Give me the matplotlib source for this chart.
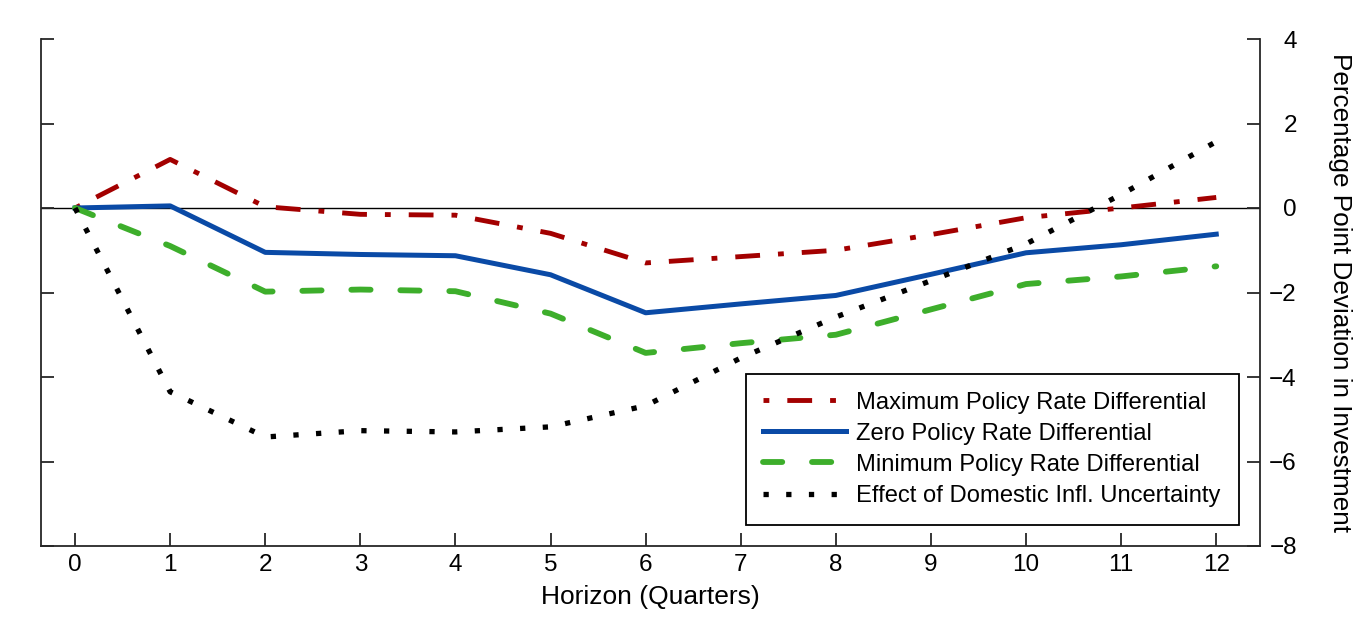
import matplotlib
matplotlib.use("Agg")
import matplotlib.pyplot as plt
import numpy as np

plt.rcParams['font.family'] = ['Liberation Sans', 'DejaVu Sans']

# ==========================================
# DATA
# ==========================================
horizon = list(range(13))
max_rate = [0, 1.15, 0.03, -0.15, -0.17, -0.60, -1.30, -1.15, -1.00, -0.63, -0.23, 0.00, 0.25]
zero_rate = [0, 0.05, -1.05, -1.10, -1.13, -1.58, -2.48, -2.27, -2.07, -1.57, -1.06, -0.87, -0.62]
min_rate = [0, -0.90, -1.98, -1.93, -1.97, -2.50, -3.43, -3.20, -3.00, -2.40, -1.80, -1.62, -1.38]
infl_unc = [0, -4.35, -5.42, -5.27, -5.30, -5.18, -4.68, -3.55, -2.58, -1.72, -0.85, 0.32, 1.57]

labels = ['Maximum Policy Rate Differential',
          'Zero Policy Rate Differential',
          'Minimum Policy Rate Differential',
          'Effect of Domestic Infl. Uncertainty']

# ==========================================
# PLOTTING
# ==========================================
fig = plt.figure(figsize=(13.67, 6.22), dpi=100)
ax = fig.add_axes([41 / 1367, 1 - 546 / 622, (1260 - 41) / 1367, (546 - 39) / 622])

ax.axhline(0, color='black', lw=1.0, zorder=1)

ax.plot(horizon, max_rate, color='#a30000', lw=3.5,
        linestyle=(0, (1.2, 3.7, 5.1, 3.7)), label=labels[0], zorder=3)
ax.plot(horizon, zero_rate, color='#0a4aa6', lw=3.6, label=labels[1], zorder=3)
ax.plot(horizon, min_rate, color='#3dae2b', lw=4.2, linestyle=(0, (3.3, 5.1)),
        dash_capstyle='round', label=labels[2], zorder=3)
ax.plot(horizon, infl_unc, color='black', lw=3.8, linestyle=(0, (1, 3.3)),
        label=labels[3], zorder=3)

ax.set_xlim(-0.358, 12.46)
ax.set_ylim(-8, 4)
ax.set_xticks(horizon)
ax.set_yticks(np.arange(-8, 5, 2))

for side in ['left', 'right', 'bottom']:
    ax.spines[side].set_linewidth(1.3)
    ax.spines[side].set_color('#262626')
ax.spines['top'].set_visible(False)

ax.tick_params(axis='x', direction='in', length=9.4, width=1.3, color='#262626',
               labelsize=17.5, pad=6, top=False)
ax.tick_params(axis='y', direction='in', length=9.4, width=1.3, color='#262626',
               labelsize=17.5, left=True, right=True,
               labelleft=False, labelright=True, pad=26.5)
for tick in ax.yaxis.get_major_ticks():
    tick.label2.set_horizontalalignment('right')

ax.set_xlabel('Horizon (Quarters)', fontsize=19, labelpad=6)
ax.yaxis.set_label_position('right')
ax.set_ylabel('Percentage Point Deviation in Investment', fontsize=18.8, rotation=270)
ax.yaxis.label.set_verticalalignment('center')
ax.yaxis.set_label_coords((1340 - 41) / (1260 - 41), 0.5)

leg = ax.legend(loc='lower right', fontsize=17.1, handlelength=3.5,
                handletextpad=0.42, labelspacing=0.38, borderpad=0.75,
                borderaxespad=0.9, fancybox=False, framealpha=1,
                edgecolor='black')
leg.get_frame().set_linewidth(1.3)

plt.savefig('out.png', dpi=100)
print("Generated: out.png")
